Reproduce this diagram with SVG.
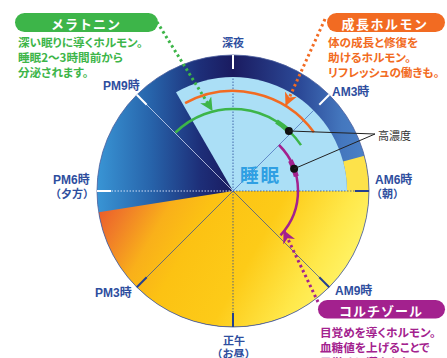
<svg xmlns="http://www.w3.org/2000/svg" width="447" height="358" viewBox="0 0 447 358">
<style>
.lbl{font-family:"Liberation Sans","Noto Sans CJK JP",sans-serif;font-weight:bold;font-size:12px;fill:#2e4e9e}
.jp{font-family:"Noto Sans CJK JP",sans-serif;font-weight:bold;font-feature-settings:"palt"}
.desc{font-size:11.6px}
.pilltxt{font-family:"Noto Sans CJK JP",sans-serif;font-weight:bold;font-size:13px;fill:#fff;text-anchor:middle}
.dotline{fill:none;stroke-width:3;stroke-dasharray:2.5 3}
.arc{fill:none;stroke-width:2.5}
.thick{fill:none;stroke-width:5}
.tickw{stroke:#fff;stroke-width:2}
.tickn{stroke:#24408f;stroke-width:2}
.dotn{stroke:#2a4a9a;stroke-width:0.8;stroke-dasharray:1.5 1.5}
.rad{stroke:#2a4a9a;stroke-width:0.7}
.lead{stroke:#222;stroke-width:1;fill:none}
</style>
<defs>
<linearGradient id="navy" gradientUnits="userSpaceOnUse" x1="97" y1="0" x2="369" y2="0">
<stop offset="0" stop-color="#3995d5"/>
<stop offset="0.2" stop-color="#2763aa"/>
<stop offset="0.38" stop-color="#1d2e78"/>
<stop offset="0.5" stop-color="#1a1b60"/>
<stop offset="0.75" stop-color="#2c4a98"/>
<stop offset="0.9" stop-color="#4477be"/>
<stop offset="1" stop-color="#4c82c8"/>
</linearGradient>
<linearGradient id="day" gradientUnits="userSpaceOnUse" x1="100" y1="205" x2="320" y2="330">
<stop offset="0" stop-color="#ec5b2b"/>
<stop offset="0.1" stop-color="#f07d28"/>
<stop offset="0.24" stop-color="#f9b01a"/>
<stop offset="0.38" stop-color="#fcc213"/>
<stop offset="0.62" stop-color="#fdcb18"/>
<stop offset="0.85" stop-color="#ffe84a"/>
<stop offset="1" stop-color="#fff468"/>
</linearGradient>
<marker id="ag" viewBox="0 0 12 12" refX="11" refY="6" markerWidth="13" markerHeight="13" orient="auto" markerUnits="userSpaceOnUse"><path d="M0,0 L12,6 L0,12 L3.5,6z" fill="#3db549"/></marker>
<marker id="ao" viewBox="0 0 12 12" refX="11" refY="6" markerWidth="13" markerHeight="13" orient="auto" markerUnits="userSpaceOnUse"><path d="M0,0 L12,6 L0,12 L3.5,6z" fill="#f26b22"/></marker>
<marker id="ap" viewBox="0 0 12 12" refX="11" refY="6" markerWidth="13" markerHeight="13" orient="auto" markerUnits="userSpaceOnUse"><path d="M0,0 L12,6 L0,12 L3.5,6z" fill="#a3218e"/></marker>
</defs>

<g id="clock">
<circle cx="233" cy="191" r="136" fill="url(#navy)"/>
<path d="M233,191 L369,191 A136,136 0 0 1 98.7,212.3 Z" fill="url(#day)"/>
<path d="M364.4,155.8 A136,136 0 0 1 369,191 L347,191 A114,114 0 0 0 343.1,161.5 Z" fill="#fde24a"/>
<path d="M233,191 L176,92.3 A114,114 0 0 1 347,191 Z" fill="#abdff6"/>
<circle cx="233" cy="191" r="136" fill="none" stroke="#4a5d9c" stroke-width="0.8"/>
<line class="dotn" x1="233" y1="191" x2="233" y2="77"/>
<line class="dotn" x1="233" y1="191" x2="233" y2="327"/>
<line class="dotn" x1="233" y1="191" x2="369" y2="191"/>
<line x1="233" y1="191" x2="98" y2="191" stroke="#e6ecff" stroke-width="0.9" stroke-dasharray="1.5 1.5"/>
<line x1="233" y1="191" x2="136.8" y2="94.8" stroke="#e6ecff" stroke-width="0.7"/>
<line x1="233" y1="191" x2="313.6" y2="110.4" stroke="#4468b8" stroke-width="0.7"/>
<line class="rad" x1="233" y1="191" x2="329.2" y2="287.2"/>
<line class="rad" x1="233" y1="191" x2="136.8" y2="287.2"/>
<line class="tickw" x1="233" y1="55" x2="233" y2="69"/>
<line class="tickw" x1="319.3" y1="104.7" x2="329.2" y2="94.8"/>
<line class="tickw" x1="146.7" y1="104.7" x2="136.8" y2="94.8"/>
<line class="tickw" x1="97" y1="191" x2="111" y2="191"/>
<line class="tickn" x1="355" y1="191" x2="369" y2="191"/>
<line class="tickn" x1="319.3" y1="277.3" x2="329.2" y2="287.2"/>
<line class="tickn" x1="233" y1="313" x2="233" y2="327"/>
<line class="tickn" x1="146.7" y1="277.3" x2="136.8" y2="287.2"/>
<text class="jp" x="240" y="182" font-size="18.5" fill="#2f9fe3" letter-spacing="2">睡眠</text>
</g>

<g id="time-labels" class="lbl">
<text x="233" y="47" text-anchor="middle" font-size="11">深夜</text>
<text x="103" y="90">PM9時</text>
<text x="332" y="96">AM3時</text>
<text x="53" y="184">PM6時</text>
<text x="72" y="198" text-anchor="middle" font-size="11">（夕方）</text>
<text x="375" y="184">AM6時</text>
<text x="387.5" y="198" text-anchor="middle" font-size="11">（朝）</text>
<text x="95" y="297">PM3時</text>
<text x="335" y="295">AM9時</text>
<text x="234" y="345" text-anchor="middle" font-size="11">正午</text>
<text x="233.5" y="358" text-anchor="middle" font-size="11">（お昼）</text>
</g>

<g id="growth-hormone-curve">
<path class="arc" stroke="#f26b22" d="M185.1,103.2 A100,100 0 0 1 313.9,132.2"/>
</g>
<g id="melatonin-curve">
<path class="arc" stroke="#3db549" d="M175.5,132.5 A82,82 0 0 1 301,145.1"/>
<path class="thick" stroke="#3db549" d="M276.5,121.5 A82,82 0 0 1 287.9,130.1"/>
<circle cx="288.9" cy="131" r="4" fill="#111"/>
</g>
<g id="cortisol-curve">
<path class="arc" stroke="#a3218e" d="M279,145 A65,65 0 0 1 280.5,235.3"/>
<path class="thick" stroke="#a3218e" d="M290.4,160.5 A65,65 0 0 1 296.3,176.4"/>
<circle cx="294.1" cy="168.8" r="4" fill="#111"/>
</g>

<g id="connectors">
<path class="dotline" stroke="#3db549" d="M157,22 L212,110" marker-end="url(#ag)"/>
<path class="dotline" stroke="#f26b22" d="M325,19 L286,105" marker-end="url(#ao)"/>
<path class="dotline" stroke="#a3218e" d="M318,302 L284,231" marker-end="url(#ap)"/>
<polyline class="lead" points="288.9,131 375,134 294.1,168.8"/>
</g>

<g id="high-concentration">
<text x="378" y="140" font-family="Noto Sans CJK JP,sans-serif" font-size="11" fill="#333">高濃度</text>
</g>

<g id="melatonin">
<rect x="15" y="13" width="143" height="19" rx="9.5" fill="#3db549"/>
<text class="pilltxt" x="86" y="28.5" letter-spacing="1">メラトニン</text>
<text class="jp desc" fill="#3db549" x="18" y="47">深い眠りに導くホルモン。</text>
<text class="jp desc" fill="#3db549" x="18" y="62">睡眠2〜3時間前から</text>
<text class="jp desc" fill="#3db549" x="18" y="77">分泌されます。</text>
</g>

<g id="growth-hormone">
<rect x="327" y="13" width="118" height="19" rx="9.5" fill="#f26b22"/>
<text class="pilltxt" x="385" y="28.5" letter-spacing="1.5">成長ホルモン</text>
<text class="jp desc" fill="#f26b22" x="328" y="47">体の成長と修復を</text>
<text class="jp desc" fill="#f26b22" x="328" y="62">助けるホルモン。</text>
<text class="jp desc" fill="#f26b22" x="328" y="77">リフレッシュの働きも。</text>
</g>

<g id="cortisol">
<rect x="318" y="300" width="127" height="18.5" rx="9.25" fill="#a3218e"/>
<text class="pilltxt" x="381" y="315.5" letter-spacing="1">コルチゾール</text>
<text class="jp desc" fill="#a3218e" x="320" y="337">目覚めを導くホルモン。</text>
<text class="jp desc" fill="#a3218e" x="320" y="352">血糖値を上げることで</text>
<text class="jp desc" fill="#a3218e" x="320" y="367">目覚めに導きます。</text>
</g>
</svg>
